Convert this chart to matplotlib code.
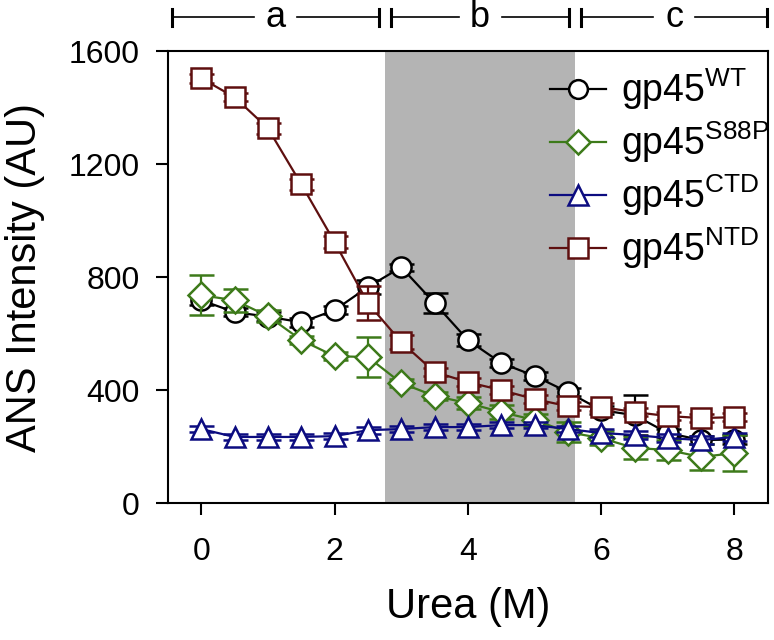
import matplotlib
matplotlib.use("Agg")
import matplotlib.pyplot as plt
import matplotlib.transforms as mtransforms
from matplotlib.lines import Line2D

plt.rcParams['font.family'] = ['Liberation Sans', 'DejaVu Sans']
plt.rcParams['mathtext.fontset'] = 'custom'
plt.rcParams['mathtext.rm'] = 'Liberation Sans'

urea = [0, 0.5, 1.0, 1.5, 2.0, 2.5, 3.0, 3.5, 4.0, 4.5, 5.0, 5.5, 6.0, 6.5, 7.0, 7.5, 8.0]

wt = [718, 676, 660, 640, 683, 765, 835, 708, 577, 496, 450, 393, 329, 311, 248, 223, 225]
wt_err = [15, 15, 15, 15, 15, 25, 12, 35, 20, 15, 15, 15, 15, 70, 15, 15, 15]

s88p = [736, 718, 662, 577, 520, 517, 425, 379, 354, 322, 294, 251, 230, 195, 188, 163, 177]
s88p_err = [70, 40, 20, 15, 15, 72, 15, 15, 20, 25, 20, 35, 25, 40, 35, 45, 65]

ctd = [262, 234, 234, 234, 237, 258, 262, 269, 269, 276, 276, 262, 248, 241, 230, 223, 234]
ctd_err = [12, 10, 10, 10, 10, 12, 10, 10, 10, 10, 10, 10, 15, 15, 15, 15, 15]

ntd = [1504, 1437, 1327, 1129, 924, 708, 570, 464, 428, 400, 368, 343, 340, 322, 308, 301, 304]
ntd_err = [15, 15, 20, 20, 20, 60, 25, 15, 15, 15, 15, 15, 15, 15, 15, 15, 15]

labels = [r'gp45$^{\mathregular{WT}}$', r'gp45$^{\mathregular{S88P}}$',
          r'gp45$^{\mathregular{CTD}}$', r'gp45$^{\mathregular{NTD}}$']
colors = ['#000000', '#3d7a1a', '#0c0c80', '#5e0f0f']
markers = ['o', 'D', '^', 's']
msizes = [14.5, 13, 15, 15]

shade_region = (2.76, 5.61)
regions = [('a', -0.44, 2.67), ('b', 2.85, 5.52), ('c', 5.70, 8.49)]

fig = plt.figure(figsize=(7.74, 6.4), dpi=100)
ax = fig.add_axes([0.217, 0.214, 0.775, 0.706])

ax.axvspan(shade_region[0], shade_region[1], color='#b4b4b4', lw=0, zorder=0)

series = [(wt, wt_err), (s88p, s88p_err), (ctd, ctd_err), (ntd, ntd_err)]
handles = []
for i, (vals, errs) in enumerate(series):
    ax.errorbar(urea, vals, yerr=errs, color=colors[i], marker=markers[i],
                ms=msizes[i], mfc='white', mec=colors[i], mew=1.8, lw=1.6,
                elinewidth=1.6, capsize=9, capthick=1.6, zorder=3 + i)
    handles.append(Line2D([], [], color=colors[i], marker=markers[i],
                          ms=msizes[i] - 1, mfc='white', mec=colors[i], mew=1.8,
                          lw=1.6))

ax.set_xlim(-0.5, 8.5)
ax.set_ylim(0, 1600)
ax.set_xticks([0, 2, 4, 6, 8])
ax.set_yticks([0, 400, 800, 1200, 1600])
ax.tick_params(direction='out', length=8.5, width=1.5, labelsize=23)
ax.tick_params(axis='y', pad=12)
ax.tick_params(axis='x', pad=16)
for sp in ax.spines.values():
    sp.set_linewidth(1.5)

ax.set_xlabel('Urea (M)', fontsize=30, labelpad=14)
ax.set_ylabel('ANS Intensity (AU)', fontsize=30, labelpad=17)

leg = ax.legend(handles, labels, loc='upper right', frameon=False, fontsize=27,
                handlelength=1.5, handletextpad=0.4, labelspacing=0.2,
                borderaxespad=0.0, bbox_to_anchor=(1.028, 1.0))

# top region brackets
trans = mtransforms.blended_transform_factory(ax.transData, ax.transAxes)
ybar = 1.075
bh = 0.019
gap = 0.32
for name, x0, x1 in regions:
    xm = (x0 + x1) / 2
    ax.plot([x0, xm - gap], [ybar, ybar], color='black', lw=1.2, transform=trans, clip_on=False)
    ax.plot([xm + gap, x1], [ybar, ybar], color='black', lw=1.2, transform=trans, clip_on=False)
    for xb in (x0, x1):
        ax.plot([xb, xb], [ybar - bh, ybar + bh], color='black', lw=2.2,
                transform=trans, clip_on=False)
    ax.text(xm, ybar, name, transform=trans, ha='center', va='center', fontsize=26)

fig.savefig('out.png', dpi=100)
